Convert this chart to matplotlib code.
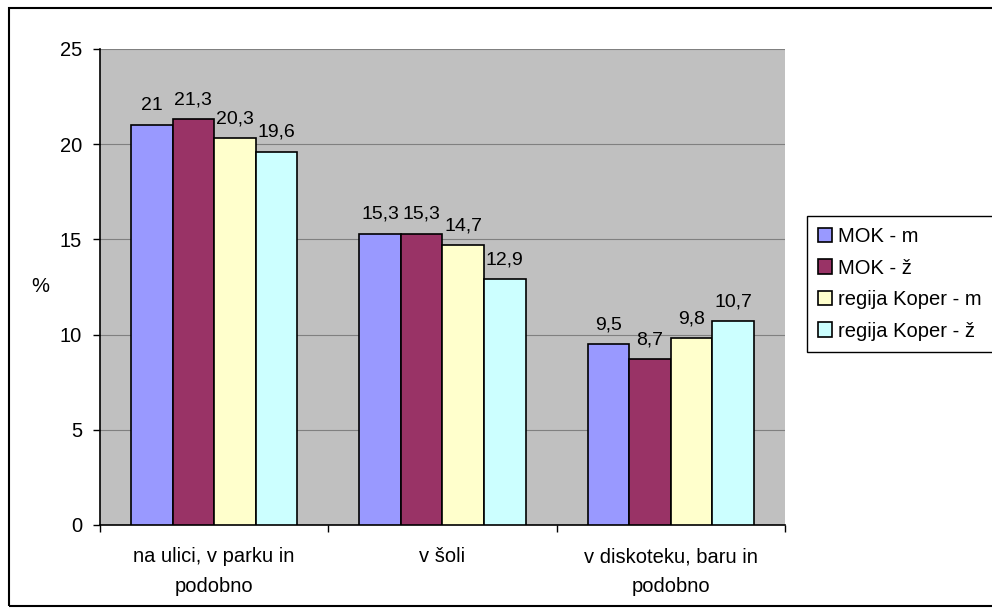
import matplotlib
matplotlib.use("Agg")
import matplotlib.pyplot as plt
import numpy as np
from matplotlib.patches import Rectangle

categories = ["na ulici, v parku in\npodobno", "v šoli", "v diskoteku, baru in\npodobno"]
series_names = ["MOK - m", "MOK - ž", "regija Koper - m", "regija Koper - ž"]
mok_m = [21, 15.3, 9.5]
mok_z = [21.3, 15.3, 8.7]
reg_m = [20.3, 14.7, 9.8]
reg_z = [19.6, 12.9, 10.7]
series = [mok_m, mok_z, reg_m, reg_z]
colors = ["#9999FF", "#993366", "#FFFFCC", "#CCFFFF"]

plt.rcParams['font.family'] = ['Liberation Sans', 'DejaVu Sans']
FS = 14.5
FSV = 14

W, H = 992, 614
fig = plt.figure(figsize=(W/100, H/100), dpi=100)
ax = fig.add_axes([100/W, 1-525/H, (785-100)/W, (525-49)/H])
ax.set_facecolor("#C0C0C0")

x = np.arange(len(categories))
bw = 1/5.5
for i, (vals, c, name) in enumerate(zip(series, colors, series_names)):
    pos = x + (i - 1.5) * bw
    ax.bar(pos, vals, width=bw, color=c, edgecolor="black", linewidth=1.2, label=name, zorder=3)
    for p, v in zip(pos, vals):
        ax.annotate(f"{v:g}".replace(".", ","), (p, v), xytext=(0, 8), textcoords="offset points",
                    ha="center", va="bottom", fontsize=FSV, zorder=4)

ax.set_xlim(-0.5, 2.5)
ax.set_ylim(0, 25)
ax.set_yticks([0, 5, 10, 15, 20, 25])
ax.yaxis.grid(True, color="#808080", linewidth=0.8, zorder=0)
ax.set_axisbelow(True)
ax.tick_params(axis='y', direction='out', length=5, width=1, labelsize=FS, pad=8)
ax.set_xticks(x)
ax.set_xticklabels(categories, fontsize=FS, linespacing=1.7)
ax.tick_params(axis='x', length=0, pad=16)
ax.set_xticks([-0.5, 0.5, 1.5, 2.5], minor=True)
ax.tick_params(axis='x', which='minor', direction='out', length=5, width=1)
for s in ["top", "right"]:
    ax.spines[s].set_visible(False)
for s in ["left", "bottom"]:
    ax.spines[s].set_color("black")
    ax.spines[s].set_linewidth(1.2)

fig.text(40/W, 1-287/H, "%", fontsize=FS, ha="center", va="center")

leg = ax.legend(loc="upper left", bbox_to_anchor=(807/W, 1-216/H), bbox_transform=fig.transFigure,
                fontsize=FS, frameon=True, fancybox=False, edgecolor="black", framealpha=1,
                handlelength=0.7, handleheight=0.7, handletextpad=0.3, labelspacing=0.62,
                borderpad=0.55, borderaxespad=0)
leg.get_frame().set_linewidth(1)

fig.patches.append(Rectangle((9/W, 8/H), (W+5-9)/W, (606-8)/H, transform=fig.transFigure,
                             fill=False, edgecolor="black", linewidth=1.5))

fig.savefig("out.png", dpi=100)
